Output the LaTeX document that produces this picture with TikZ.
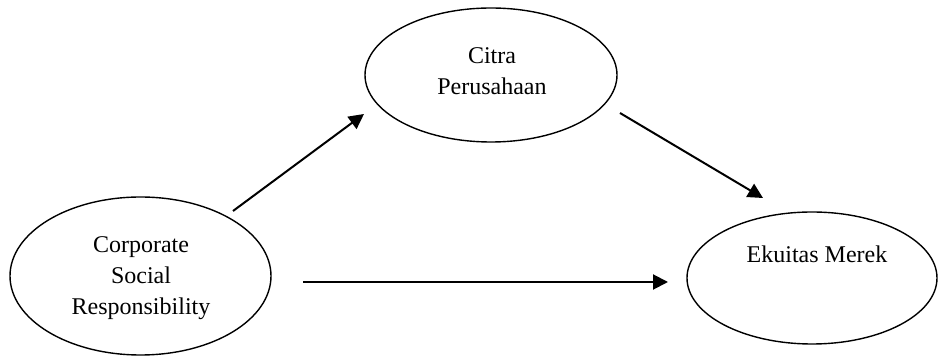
\documentclass[tikz,border=0pt]{standalone}
\usepackage{fontspec}
\setmainfont{Liberation Serif}
\usetikzlibrary{shapes.geometric,arrows.meta}
\begin{document}
\begin{tikzpicture}[x=0.5pt,y=-0.5pt,
  var/.style={draw, ellipse, line width=0.7pt, inner sep=0pt},
  lbl/.style={inner sep=0pt, align=center,
    font=\fontsize{12pt}{15.5pt}\selectfont},
  path/.style={line width=1pt, -{Triangle[length=7.5pt,width=7.5pt]}}]
\useasboundingbox (0,0) rectangle (938,357);
\node[var, minimum width=126pt, minimum height=67pt] (citra) at (491,75) {};
\node[var, minimum width=130.5pt, minimum height=79pt] (csr) at (140.5,276) {};
\node[var, minimum width=125pt, minimum height=66pt] (ek) at (812,278) {};
\node[lbl] (citralbl) at (492,71) {Citra\\Perusahaan};
\node[lbl] (csrlbl) at (141,278) {Corporate\\Social\\Responsibility};
\node[lbl, anchor=base] (eklbl) at (817,263) {Ekuitas Merek};
\coordinate (a1s) at (233,211);
\coordinate (a1e) at (364,114);
\coordinate (a2s) at (620,113);
\coordinate (a2e) at (763,198);
\coordinate (a3s) at (303,282);
\coordinate (a3e) at (668,282);
\draw[path] (a1s) -- (a1e);
\draw[path] (a2s) -- (a2e);
\draw[path] (a3s) -- (a3e);
\end{tikzpicture}
\end{document}
